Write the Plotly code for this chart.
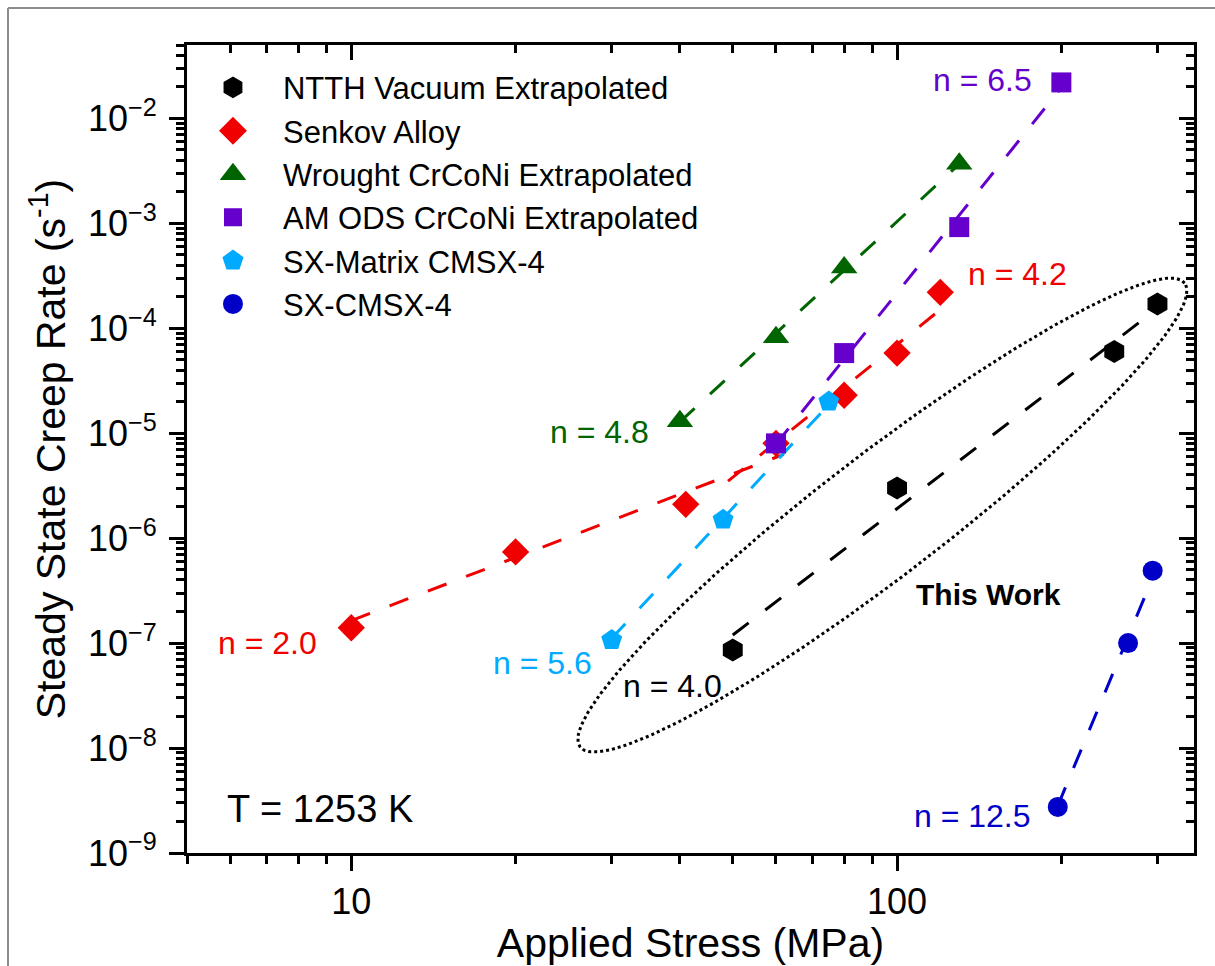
import numpy as np
import plotly.graph_objects as go

# ---- data: applied stress (MPa) vs steady-state creep rate (1/s) at 1253 K ----
ntth_stress = [50, 100, 250, 300]
ntth_rate = [8.6e-8, 3.0e-6, 6.0e-5, 1.7e-4]

senkov_stress = [10, 20, 41, 60, 80, 100, 120]
senkov_rate = [1.4e-7, 7.4e-7, 2.1e-6, 8.0e-6, 2.3e-5, 5.8e-5, 2.2e-4]

wrought_stress = [40, 60, 80, 130]
wrought_rate = [1.3e-5, 8.2e-5, 3.8e-4, 3.7e-3]

amods_stress = [60, 80, 130, 200]
amods_rate = [8.0e-6, 5.8e-5, 9.2e-4, 2.2e-2]

sxm_stress = [30, 48, 75]
sxm_rate = [1.07e-7, 1.5e-6, 2.0e-5]

sx_stress = [197, 265, 294]
sx_rate = [2.75e-9, 1.0e-7, 4.9e-7]

# stress exponents of the power-law fits
n_ntth = 4.0
n_senkov_low = 2.0
n_senkov_high = 4.2
n_wrought = 4.8
n_amods = 6.5
n_sxm = 5.6
n_sx = 12.5

# stress span covered by each fitted line
span_ntth = [50, 300]
span_senkov_low = [10, 62]
span_senkov_high = [49, 120]
span_wrought = [40, 130]
span_amods = [60, 200]
span_sxm = [30, 75]
span_sx = [197, 294]

x_ticks = [10, 100]
x_ticktext = ["10", "100"]
y_ticks = [10.0 ** e for e in range(-9, -1)]
y_ticktext = ["10<sup>\u2212%d</sup>" % -e for e in range(-9, -1)]

# ---- styling ----
FONT = "Liberation Sans, Arial, sans-serif"
BLACK = "#000000"
RED = "#f00000"
GREEN = "#006400"
PURPLE = "#6600cc"
CYAN = "#00aaff"
BLUE = "#0000c8"

W, H = 1215, 966
ML, MR, MT, MB = 187, 21, 45, 113
X_RANGE = [np.log10(5), np.log10(350)]
Y_RANGE = [-9, np.log10(0.05)]
px_per_dec_x = (W - ML - MR) / (X_RANGE[1] - X_RANGE[0])
px_per_dec_y = (H - MT - MB) / (Y_RANGE[1] - Y_RANGE[0])

DASH = "20px,21px"


def fit_line(stress, rate, n, span):
    """Power-law line of fixed exponent n, intercept from the data."""
    lx = np.log10(stress)
    ly = np.log10(rate)
    b = np.mean(ly - n * lx)
    xs = np.array(span, dtype=float)
    return xs, 10 ** (b + n * np.log10(xs))


fig = go.Figure()

# dotted ellipse around this work's data (centre in data units, axes in px)
ell_center = (94.0, 1.66e-6)
ell_a, ell_b, ell_angle = 381.0, 61.0, np.radians(37.5)
t = np.linspace(0, 2 * np.pi, 400)
dx = ell_a * np.cos(t) * np.cos(ell_angle) - ell_b * np.sin(t) * np.sin(ell_angle)
dy = ell_a * np.cos(t) * np.sin(ell_angle) + ell_b * np.sin(t) * np.cos(ell_angle)
ex = 10 ** (np.log10(ell_center[0]) + dx / px_per_dec_x)
ey = 10 ** (np.log10(ell_center[1]) + dy / px_per_dec_y)
fig.add_trace(go.Scatter(x=ex, y=ey, mode="lines", showlegend=False, hoverinfo="skip",
                         line=dict(color=BLACK, width=3, dash="dot")))

# fitted power-law lines
fits = [
    (ntth_stress, ntth_rate, n_ntth, span_ntth, BLACK),
    (senkov_stress[:4], senkov_rate[:4], n_senkov_low, span_senkov_low, RED),
    (senkov_stress[3:], senkov_rate[3:], n_senkov_high, span_senkov_high, RED),
    (wrought_stress, wrought_rate, n_wrought, span_wrought, GREEN),
    (amods_stress, amods_rate, n_amods, span_amods, PURPLE),
    (sxm_stress, sxm_rate, n_sxm, span_sxm, CYAN),
    (sx_stress, sx_rate, n_sx, span_sx, BLUE),
]
for s, r, n, span, col in fits:
    fx, fy = fit_line(s, r, n, span)
    fig.add_trace(go.Scatter(x=fx, y=fy, mode="lines", showlegend=False, hoverinfo="skip",
                             line=dict(color=col, width=3, dash=DASH)))

# measured / extrapolated points: (name, x, y, symbol, size, colour, legend outline)
series = [
    ("NTTH Vacuum Extrapolated", ntth_stress, ntth_rate, "hexagon", 23, BLACK, 5),
    ("Senkov Alloy", senkov_stress, senkov_rate, "diamond", 21, RED, 5),
    ("Wrought CrCoNi Extrapolated", wrought_stress, wrought_rate, "triangle-up", 23, GREEN, 4),
    ("AM ODS CrCoNi Extrapolated", amods_stress, amods_rate, "square", 20, PURPLE, 2),
    ("SX-Matrix CMSX-4", sxm_stress, sxm_rate, "pentagon", 22, CYAN, 5),
    ("SX-CMSX-4", sx_stress, sx_rate, "circle", 20, BLUE, 4),
]
for name, s, r, sym, size, col, _ in series:
    fig.add_trace(go.Scatter(x=s, y=r, mode="markers", name=name, showlegend=False,
                             marker=dict(symbol=sym, size=size, color=col, line=dict(width=0))))

# legend entries (outlined so the key symbols read at the same size as the plot symbols)
for name, _, _, sym, size, col, lw in series:
    fig.add_trace(go.Scatter(x=[None], y=[None], mode="markers", name=name, hoverinfo="skip",
                             marker=dict(symbol=sym, size=size, color=col,
                                         line=dict(width=lw, color=col))))

# helper trace for the mirrored top/right axes
fig.add_trace(go.Scatter(x=[None], y=[None], xaxis="x2", yaxis="y2",
                         showlegend=False, hoverinfo="skip"))

# exponent labels, placed beside the end point of each series
labels = [
    ("n = 6.5", amods_stress[3], amods_rate[3], PURPLE, "right", -27, 2),
    ("n = 4.2", senkov_stress[6], senkov_rate[6], RED, "left", 26, 18),
    ("n = 4.8", wrought_stress[0], wrought_rate[0], GREEN, "right", -29, -11),
    ("n = 5.6", sxm_stress[0], sxm_rate[0], CYAN, "right", -18, -23),
    ("n = 4.0", ntth_stress[0], ntth_rate[0], BLACK, "right", -9, -36),
    ("n = 2.0", senkov_stress[0], senkov_rate[0], RED, "right", -32, -15),
    ("n = 12.5", sx_stress[0], sx_rate[0], BLUE, "right", -25, -9),
]
for text, xv, yv, col, anchor, xs, ys in labels:
    fig.add_annotation(x=np.log10(xv), y=np.log10(yv), xref="x", yref="y", text=text,
                       showarrow=False, xanchor=anchor, yanchor="middle",
                       xshift=xs, yshift=ys, font=dict(family=FONT, size=32, color=col))

fig.add_annotation(x=np.log10(147), y=np.log10(2.93e-7), xref="x", yref="y",
                   text="<b>This Work</b>", showarrow=False, xanchor="center", yanchor="middle",
                   font=dict(family=FONT, size=30, color=BLACK))
fig.add_annotation(x=(225 - ML) / (W - ML - MR), y=(H - MB - 809) / (H - MT - MB),
                   xref="paper", yref="paper", text="T = 1253 K", showarrow=False,
                   xanchor="left", yanchor="middle", font=dict(family=FONT, size=38, color=BLACK))

# thin grey frame along the top and left of the figure
pw, ph = W - ML - MR, H - MT - MB
fx0 = (8 - ML) / pw
fy0 = (H - MB - 8) / ph
fig.add_shape(type="line", xref="paper", yref="paper", x0=fx0, y0=fy0, x1=(W - ML) / pw, y1=fy0,
              line=dict(color="#8c8c8c", width=2))
fig.add_shape(type="line", xref="paper", yref="paper", x0=fx0, y0=fy0, x1=fx0, y1=(-MB) / ph,
              line=dict(color="#8c8c8c", width=2))

x_minor = [v * m for v in (1, 10, 100) for m in range(2, 10) if 5 <= v * m <= 350 and v * m not in (10, 100)]
y_minor = [m * 10.0 ** e for e in range(-9, -1) for m in range(2, 10) if m * 10.0 ** e <= 0.05]

axis_common = dict(showgrid=False, zeroline=False, linecolor=BLACK, tickcolor=BLACK,
                   tickwidth=3, ticklen=15)

fig.update_layout(
    width=W, height=H,
    margin=dict(l=ML, r=MR, t=MT, b=MB, autoexpand=False),
    paper_bgcolor="white", plot_bgcolor="white",
    font=dict(family=FONT, color=BLACK),
    showlegend=True,
    legend=dict(x=-0.004, y=0.9805, xanchor="left", yanchor="top",
                bgcolor="rgba(0,0,0,0)", borderwidth=0, itemwidth=90,
                font=dict(family=FONT, size=31, color=BLACK)),
    xaxis=dict(type="log", range=X_RANGE, showline=True, linewidth=3, mirror=True,
               ticks="outside", tickvals=x_ticks, ticktext=x_ticktext,
               tickfont=dict(family=FONT, size=36), ticklabelstandoff=0,
               minor=dict(ticks="outside", tickvals=x_minor, ticklen=8, tickwidth=3, tickcolor=BLACK),
               title=dict(text="Applied Stress (MPa)", font=dict(family=FONT, size=41), standoff=14),
               **axis_common),
    yaxis=dict(type="log", range=Y_RANGE, showline=True, linewidth=3, mirror=True,
               ticks="outside", tickvals=y_ticks, ticktext=y_ticktext,
               tickfont=dict(family=FONT, size=36), ticklabelstandoff=5,
               minor=dict(ticks="outside", tickvals=y_minor, ticklen=8, tickwidth=3, tickcolor=BLACK),
               title=dict(text="Steady State Creep Rate (s<sup>-1</sup>)",
                          font=dict(family=FONT, size=41), standoff=10),
               **axis_common),
    xaxis2=dict(type="log", range=X_RANGE, overlaying="x", side="top", anchor="y2",
                showline=False, ticks="inside", tickvals=x_ticks, showticklabels=False,
                minor=dict(ticks="inside", tickvals=x_minor, ticklen=8, tickwidth=3, tickcolor=BLACK),
                **axis_common),
    yaxis2=dict(type="log", range=Y_RANGE, overlaying="y", side="right", anchor="x2",
                showline=False, ticks="inside", tickvals=y_ticks, showticklabels=False,
                minor=dict(ticks="inside", tickvals=y_minor, ticklen=8, tickwidth=3, tickcolor=BLACK),
                **axis_common),
)

fig.write_html("out.html")
